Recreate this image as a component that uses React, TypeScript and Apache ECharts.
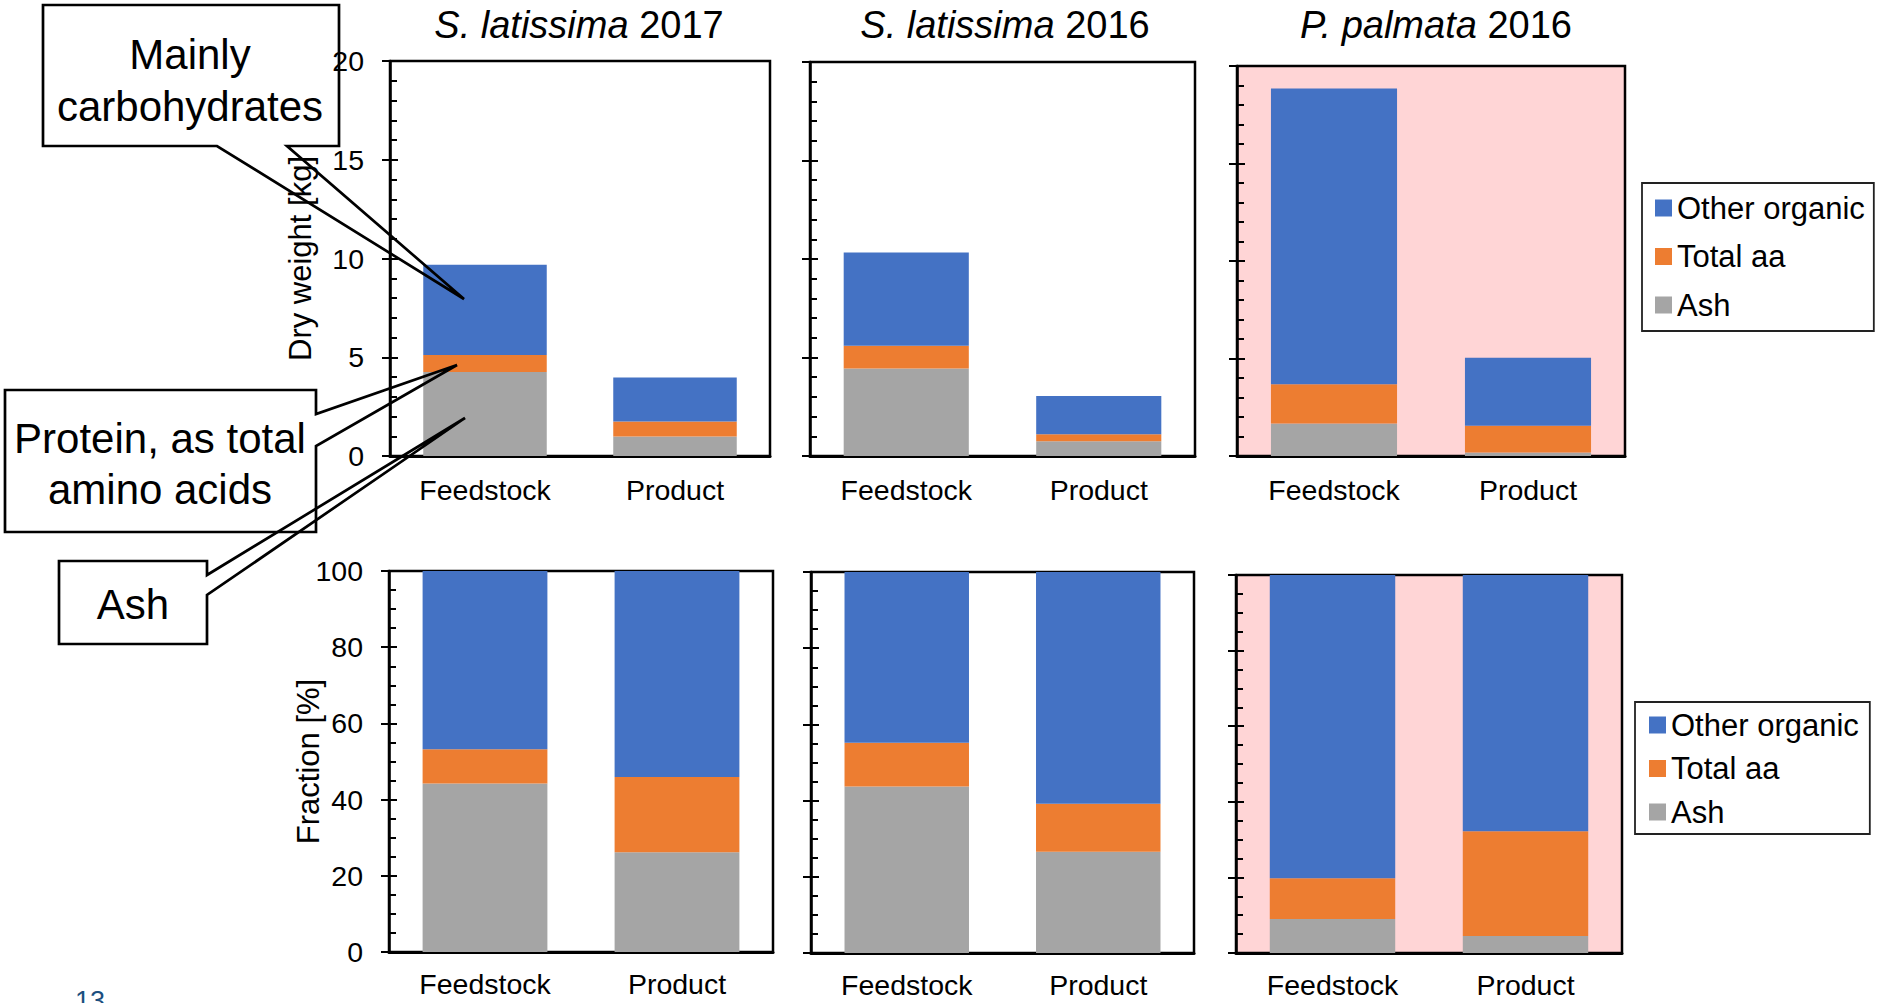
import React, { useEffect, useRef } from "react";
import * as echarts from "echarts";

const FONT = '"Liberation Sans", Arial, Helvetica, sans-serif';

// ---------- data ----------
const categories = ["Feedstock", "Product"];
const seriesNames = ["Ash", "Total aa", "Other organic"];
const legendOrder = ["Other organic", "Total aa", "Ash"];
const colors = ["#A5A5A5", "#ED7D31", "#4472C4"];

const titleSpecies = ["S. latissima", "S. latissima", "P. palmata"];
const titleYears = ["2017", "2016", "2016"];

// Dry weight [kg] per panel: [Feedstock, Product]
const kgAsh = [
  [4.25, 0.99],
  [4.44, 0.75],
  [1.67, 0.18],
];
const kgTotalAa = [
  [0.86, 0.76],
  [1.16, 0.36],
  [2.01, 1.37],
];
const kgOther = [
  [4.57, 2.22],
  [4.73, 1.94],
  [15.17, 3.49],
];

// Fraction [%] per panel: [Feedstock, Product]
const pctAsh = [
  [44.2, 26.2],
  [43.7, 26.6],
  [9.0, 4.5],
];
const pctTotalAa = [
  [9.0, 19.7],
  [11.5, 12.6],
  [10.8, 27.7],
];
const pctOther = [
  [46.8, 54.1],
  [44.8, 60.8],
  [80.2, 67.8],
];

const kgTicks = { min: 0, max: 20, interval: 5, minorSplit: 5 };
const pctTicks = { min: 0, max: 100, interval: 20, minorSplit: 4 };

const calloutCarb = ["Mainly", "carbohydrates"];
const calloutProtein = ["Protein, as total", "amino acids"];
const calloutAsh = ["Ash"];

// ---------- layout ----------
const gridRects = [
  { left: 390, top: 61, width: 380, height: 395 },
  { left: 810, top: 62, width: 385, height: 394 },
  { left: 1237, top: 66, width: 388, height: 390 },
  { left: 389, top: 571, width: 384, height: 381 },
  { left: 811, top: 572, width: 383, height: 381 },
  { left: 1236, top: 575, width: 386, height: 378 },
];
const pinkPanels = [2, 5];
const titleX = [579, 1005, 1436];

function buildOption() {
  const grid: any[] = [];
  const xAxis: any[] = [];
  const yAxis: any[] = [];
  const series: any[] = [];

  for (let p = 0; p < 6; p++) {
    const r = gridRects[p];
    grid.push({
      ...r,
      show: true,
      borderColor: "#000",
      borderWidth: 2.5,
      backgroundColor: pinkPanels.includes(p) ? "#FFD5D6" : "transparent",
      z: 0,
    });
  }
  // duplicate grids for inside ticks
  for (let p = 0; p < 6; p++) {
    grid.push({ ...gridRects[p], show: false });
  }

  for (let p = 0; p < 12; p++) {
    const pp = p % 6;
    const top = pp < 3;
    xAxis.push({
      gridIndex: p,
      type: "category",
      data: categories,
      show: p < 6,
      axisLine: { show: true, lineStyle: { color: "#000", width: 3 } },
      axisTick: { show: false },
      axisLabel: {
        show: p < 6,
        color: "#000",
        fontSize: 28.5,
        fontFamily: FONT,
        margin: top ? 19 : 17,
      },
      splitLine: { show: false },
    });
  }

  for (let p = 0; p < 12; p++) {
    const pp = p % 6;
    const top = pp < 3;
    const t = top ? kgTicks : pctTicks;
    const main = p < 6;
    const showLabels = main && (pp === 0 || pp === 3);
    yAxis.push({
      gridIndex: p,
      type: "value",
      min: t.min,
      max: t.max,
      interval: t.interval,
      position: "left",
      z: 3,
      axisLine: { show: main, lineStyle: { color: "#000", width: 2.5 } },
      axisTick: {
        show: true,
        inside: !main,
        length: 8,
        lineStyle: { color: "#000", width: 2 },
      },
      minorTick: {
        show: !main,
        splitNumber: t.minorSplit,
        length: 7,
        lineStyle: { color: "#000", width: 2 },
      },
      splitLine: { show: false },
      minorSplitLine: { show: false },
      axisLabel: {
        show: showLabels,
        color: "#000",
        fontSize: 28.5,
        fontFamily: FONT,
        margin: 26,
      },
      name: main && pp === 0 ? "Dry weight [kg]" : main && pp === 3 ? "Fraction [%]" : "",
      nameLocation: "middle",
      nameGap: pp === 0 ? 74.5 : 65.5,
      nameMoveOverlap: false,
      nameTextStyle: { color: "#000", fontSize: 31, fontFamily: FONT },
    });
  }

  const kgSets = [kgAsh, kgTotalAa, kgOther];
  const pctSets = [pctAsh, pctTotalAa, pctOther];
  for (let p = 0; p < 6; p++) {
    const top = p < 3;
    const col = p % 3;
    const sets = top ? kgSets : pctSets;
    for (let s = 0; s < 3; s++) {
      series.push({
        type: "bar",
        name: seriesNames[s],
        xAxisIndex: p,
        yAxisIndex: p,
        stack: "stack" + p,
        data: sets[s][col],
        barCategoryGap: "35%",
        itemStyle: { color: colors[s] },
        emphasis: { disabled: true },
        z: 2,
      });
    }
  }

  const legendCommon = {
    orient: "vertical",
    icon: "rect",
    itemWidth: 17,
    itemHeight: 17,
    borderColor: "#222",
    borderWidth: 1.8,
    backgroundColor: "#fff",
    selectedMode: false,
    data: legendOrder,
  };
  const legend = [
    {
      ...legendCommon,
      left: 1642,
      top: 183,
      padding: [7, 9, 8, 13],
      itemGap: 12.5,
      textStyle: { fontSize: 31, color: "#000", fontFamily: FONT, lineHeight: 36 },
    },
    {
      ...legendCommon,
      left: 1635,
      top: 702,
      padding: [6, 11, 5, 14],
      itemGap: 9.5,
      textStyle: { fontSize: 31, color: "#000", fontFamily: FONT, lineHeight: 34 },
    },
  ];

  const graphics: any[] = [];
  // Panel titles
  for (let i = 0; i < 3; i++) {
    graphics.push({
      type: "text",
      x: titleX[i],
      y: 24.5,
      z: 50,
      style: {
        text: "{i|" + titleSpecies[i] + "} " + titleYears[i],
        rich: { i: { fontStyle: "italic", fontSize: 38, fontFamily: FONT, fill: "#000" } },
        fontSize: 38,
        fontFamily: FONT,
        fill: "#000",
        align: "center",
        verticalAlign: "middle",
      },
    });
  }

  let z = 100;
  const callout = (
    rect: number[],
    poly: number[][],
    lines: string[],
    cx: number,
    lineYs: number[],
    fillZ?: number
  ) => {
    graphics.push({
      type: "rect",
      z: fillZ !== undefined ? fillZ : z++,
      shape: { x: rect[0], y: rect[1], width: rect[2] - rect[0], height: rect[3] - rect[1] },
      style: { fill: "#fff", stroke: null },
    });
    graphics.push({
      type: "polygon",
      z: z++,
      shape: { points: poly },
      style: { fill: "none", stroke: "#000", lineWidth: 2.7, lineJoin: "miter" },
    });
    lines.forEach((t, i) => {
      graphics.push({
        type: "text",
        z: z++,
        x: cx,
        y: lineYs[i],
        style: {
          text: t,
          fontSize: 42,
          fontFamily: FONT,
          fill: "#000",
          align: "center",
          verticalAlign: "middle",
        },
      });
    });
  };

  callout(
    [43, 5, 339, 146],
    [[43, 5], [339, 5], [339, 146], [287, 146], [464, 299], [217, 146], [43, 146]],
    calloutCarb,
    190,
    [54, 106],
    -1
  );
  callout(
    [5, 390, 316, 532],
    [[5, 390], [316, 390], [316, 414], [457, 365], [316, 446], [316, 532], [5, 532]],
    calloutProtein,
    160,
    [438, 489]
  );
  callout(
    [59, 561, 207, 644],
    [[59, 561], [207, 561], [207, 575], [465, 418], [207, 595], [207, 644], [59, 644]],
    calloutAsh,
    133,
    [604]
  );

  // page number, cut off at bottom edge as in the slide
  graphics.push({
    type: "text",
    x: 75,
    y: 987,
    z: 10,
    style: {
      text: "13",
      fontSize: 27,
      fontFamily: FONT,
      fill: "#1B4F80",
      align: "left",
      verticalAlign: "top",
    },
  });

  return {
    animation: false,
    backgroundColor: "#fff",
    textStyle: { fontFamily: FONT },
    grid,
    xAxis,
    yAxis,
    series,
    legend,
    graphic: { elements: graphics },
  };
}

export default function App() {
  const ref = useRef<HTMLDivElement>(null);
  useEffect(() => {
    if (!ref.current) return;
    const chart = echarts.init(ref.current, undefined, {
      renderer: "svg",
      width: 1877,
      height: 1003,
    });
    chart.setOption(buildOption() as any);
    return () => chart.dispose();
  }, []);
  return (
    <div
      ref={ref}
      style={{
        position: "absolute",
        left: 0,
        top: 0,
        width: 1877,
        height: 1003,
        overflow: "hidden",
        background: "#fff",
      }}
    />
  );
}
